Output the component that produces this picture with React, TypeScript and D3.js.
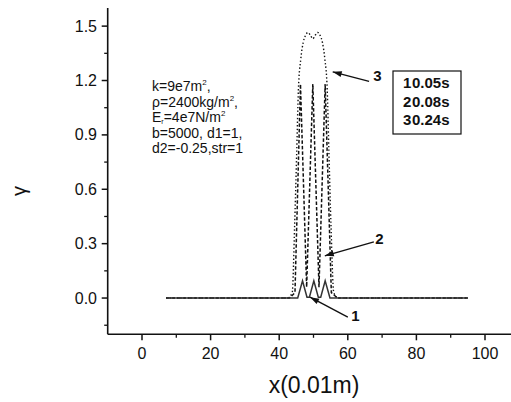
import React from 'react';
import * as d3 from 'd3';

const xTicks = [0, 20, 40, 60, 80, 100];
const xMinor = [10, 30, 50, 70, 90];
const yTicks = [0, 0.3, 0.6, 0.9, 1.2, 1.5];
const yMinor = [-0.15, 0.15, 0.45, 0.75, 1.05, 1.35];

// series 1: t = 0.05 s (solid)
const s1x = [7, 45.4, 46.8, 48.1, 48.8, 50.1, 51.4, 52.1, 53.4, 54.8, 95];
const s1y = [0, 0, 0.095, 0.004, 0.004, 0.095, 0.004, 0.004, 0.095, 0, 0];
// series 2: t = 0.08 s (dashed)
const s2x = [7, 43, 44.6, 46.2, 48.0, 49.8, 51.6, 53.4, 55.2, 57, 95];
const s2y = [0, 0, 0.03, 1.18, 0.06, 1.18, 0.06, 1.18, 0.03, 0, 0];
// series 3: t = 0.24 s (dotted)
const s3x = [7, 42.5, 43.8, 44.5, 45.1, 45.6, 46.3, 47.0, 47.7, 48.4, 49.1, 49.8, 50.5, 51.2, 51.9, 52.6, 53.3, 54.0, 54.5, 55.1, 55.9, 57.2, 95];
const s3y = [0, 0, 0.03, 0.4, 0.8, 1.15, 1.32, 1.41, 1.45, 1.465, 1.45, 1.43, 1.45, 1.465, 1.45, 1.41, 1.32, 1.15, 0.8, 0.4, 0.03, 0, 0];

const legendLabels = ['1', '2', '3'];
const legendTimes = ['0.05s', '0.08s', '0.24s'];

const paramLines = ['k=9e7m', '\u03c1=2400kg/m', 'E', 'b=5000, d1=1,', 'd2=-0.25,str=1'];

// annotation arrows in data units
const annLabels = ['3', '2', '1'];
const annLabelX = [68.6, 69.2, 62.2];
const annLabelY = [1.23, 0.33, -0.095];
const annTailX = [66.2, 67.6, 60.0];
const annTailY = [1.195, 0.31, -0.105];
const annTipX = [55.6, 53.3, 49.0];
const annTipY = [1.248, 0.233, 0.005];

const W = 511;
const H = 402;

export default function App() {
  const x = d3.scaleLinear().domain([-10, 110]).range([107.7, 519.3]);
  const y = d3.scaleLinear().domain([-0.2, 1.6]).range([334.3, 8]);
  const fmtY = d3.format('.1f');

  const mk = (xs: number[], ys: number[], curve: any) =>
    d3
      .line<number>()
      .x((_, i) => x(xs[i]))
      .y((_, i) => y(ys[i]))
      .curve(curve)(xs as any) as string;

  const font = 'Liberation Sans, Arial, Helvetica, sans-serif';
  const x0 = x(-10);
  const y0 = y(-0.2);

  const arrowHead = (tx: number, ty: number, fx: number, fy: number) => {
    const ang = Math.atan2(ty - fy, tx - fx);
    const len = 9;
    const w = 3;
    const bx = tx - len * Math.cos(ang);
    const by = ty - len * Math.sin(ang);
    const px = -Math.sin(ang) * w;
    const py = Math.cos(ang) * w;
    return `M${tx},${ty}L${bx + px},${by + py}L${bx - px},${by - py}Z`;
  };

  return (
    <svg
      width={W}
      height={H}
      style={{ position: 'absolute', left: 0, top: 0, background: '#fff' }}
      fontFamily={font}
    >
      <rect width={W} height={H} fill="#fff" />
      {/* data lines */}
      <path d={mk(s3x, s3y, d3.curveMonotoneX)} fill="none" stroke="#111" strokeWidth={1.4} strokeDasharray="1.4,2.2" />
      <path d={mk(s2x, s2y, d3.curveLinear)} fill="none" stroke="#111" strokeWidth={1.5} strokeDasharray="3.5,2" />
      <path d={mk(s1x, s1y, d3.curveLinear)} fill="none" stroke="#333" strokeWidth={1.5} />

      {/* axes */}
      <line x1={x0} y1={y0} x2={W} y2={y0} stroke="#111" strokeWidth={1.6} />
      <line x1={x0} y1={y0} x2={x0} y2={y(1.6)} stroke="#111" strokeWidth={1.6} />
      {xTicks.map((t) => (
        <g key={'xt' + t}>
          <line x1={x(t)} x2={x(t)} y1={y0} y2={y0 + 6} stroke="#111" strokeWidth={1.5} />
          <text x={x(t)} y={359} textAnchor="middle" fontSize={16} fill="#111">
            {t}
          </text>
        </g>
      ))}
      {xMinor.map((t) => (
        <line key={'xm' + t} x1={x(t)} x2={x(t)} y1={y0} y2={y0 + 3.5} stroke="#111" strokeWidth={1.3} />
      ))}
      {yTicks.map((t) => (
        <g key={'yt' + t}>
          <line x1={x0 - 6} x2={x0} y1={y(t)} y2={y(t)} stroke="#111" strokeWidth={1.5} />
          <text x={97} y={y(t) + 5.5} textAnchor="end" fontSize={16} fill="#111">
            {fmtY(t)}
          </text>
        </g>
      ))}
      {yMinor.map((t) => (
        <line key={'ym' + t} x1={x0 - 3.5} x2={x0} y1={y(t)} y2={y(t)} stroke="#111" strokeWidth={1.3} />
      ))}

      {/* axis titles */}
      <text x={314} y={393} textAnchor="middle" fontSize={23} fill="#111">
        x(0.01m)
      </text>
      <text
        transform="translate(26,191) rotate(-90)"
        textAnchor="middle"
        fontSize={20}
        fill="#111"
      >
        {'\u03b3'}
      </text>

      {/* parameter block */}
      <g fontSize={14} fill="#111">
        <text x={152} y={91}>
          {paramLines[0]}
          <tspan fontSize={8} dy={-6}>2</tspan>
          <tspan dy={6}>,</tspan>
        </text>
        <text x={152} y={106.5}>
          {paramLines[1]}
          <tspan fontSize={8} dy={-6}>2</tspan>
          <tspan dy={6}>,</tspan>
        </text>
        <text x={152} y={122}>
          {paramLines[2]}
          <tspan fontSize={7} dy={1.5}>r</tspan>
          <tspan dy={-1.5}>=4e7N/m</tspan>
          <tspan fontSize={8} dy={-6}>2</tspan>
        </text>
        <text x={152} y={137.5}>
          {paramLines[3]}
        </text>
        <text x={152} y={153}>
          {paramLines[4]}
        </text>
      </g>

      {/* legend */}
      <rect x={393} y={71} width={68} height={63} fill="#fff" stroke="#111" strokeWidth={1.2} />
      {legendLabels.map((l, i) => (
        <g key={'lg' + l} fontSize={15} fontWeight="bold" fill="#111">
          <text x={403} y={88 + i * 18.5}>{l}</text>
          <text x={412} y={88 + i * 18.5}>{legendTimes[i]}</text>
        </g>
      ))}

      {/* annotations */}
      {annLabels.map((l, i) => (
        <g key={'an' + l}>
          <line
            x1={x(annTailX[i])}
            y1={y(annTailY[i])}
            x2={x(annTipX[i])}
            y2={y(annTipY[i])}
            stroke="#111"
            strokeWidth={1.4}
          />
          <path
            d={arrowHead(x(annTipX[i]), y(annTipY[i]), x(annTailX[i]), y(annTailY[i]))}
            fill="#111"
          />
          <text
            x={x(annLabelX[i])}
            y={y(annLabelY[i]) + 5.5}
            textAnchor="middle"
            fontSize={15}
            fontWeight="bold"
            fill="#111"
          >
            {l}
          </text>
        </g>
      ))}
    </svg>
  );
}
